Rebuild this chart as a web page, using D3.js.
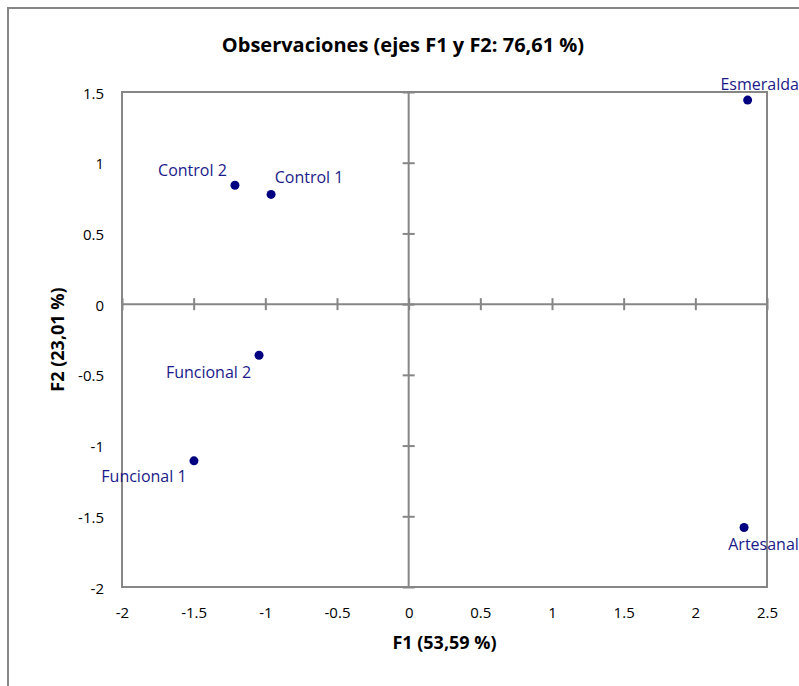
<!DOCTYPE html>
<html>
<head>
<meta charset="utf-8">
<script src="https://cdn.jsdelivr.net/npm/d3@7"></script>
<style>
  html, body { margin: 0; padding: 0; background: #fff; }
  svg { display: block; }
  text { font-family: "Open Sans", "Noto Sans", sans-serif; }
</style>
</head>
<body>
<svg id="chart" width="799" height="686"></svg>
<script>
// ---- data ----
const observations = ["Esmeralda", "Artesanal", "Control 2", "Control 1", "Funcional 2", "Funcional 1"];
const f1Values = [2.365, 2.340, -1.212, -0.960, -1.044, -1.498];
const f2Values = [1.443, -1.579, 0.841, 0.776, -0.361, -1.108];
const xTicks = [-2, -1.5, -1, -0.5, 0, 0.5, 1, 1.5, 2, 2.5];
const yTicks = [-2, -1.5, -1, -0.5, 0, 0.5, 1, 1.5];
const titleText = "Observaciones (ejes F1 y F2: 76,61 %)";
const xTitle = "F1 (53,59 %)";
const yTitle = "F2 (23,01 %)";

// label placement (style): offset of label centre/baseline from its point
const labelOffsets = [[12, -10], [19.5, 23], [-42.5, -9], [38, -11], [-50.5, 23], [-50, 21]];

const FONT = "'Open Sans', 'Noto Sans', sans-serif";
const svg = d3.select("#chart");
const gray = "#868686";
const navy = "#000080";

const pL = 122, pR = 767, pT = 92, pB = 587;
const x = d3.scaleLinear().domain([-2, 2.5]).range([pL, pR]);
const y = d3.scaleLinear().domain([-2, 1.5]).range([pB, pT]);

// outer frame (extends beyond the view)
svg.append("rect").attr("x", 8).attr("y", 8).attr("width", 900).attr("height", 900)
  .attr("fill", "none").attr("stroke", gray).attr("stroke-width", 2);

// title
svg.append("text").attr("x", 403).attr("y", 52).attr("text-anchor", "middle")
  .attr("font-weight", "bold").attr("font-size", 20).attr("fill", "#000").text(titleText);

// plot area
svg.append("rect").attr("x", pL).attr("y", pT).attr("width", pR - pL).attr("height", pB - pT)
  .attr("fill", "none").attr("stroke", gray).attr("stroke-width", 2);

// zero lines with cross ticks
const zx = svg.append("g").attr("transform", `translate(0,${y(0) + 6})`)
  .call(d3.axisBottom(x).tickValues(xTicks).tickSize(12).tickFormat(""));
zx.select(".domain").remove();
zx.selectAll(".tick line").attr("stroke", gray).attr("stroke-width", 2).attr("transform", "translate(0,-12)");
svg.append("line").attr("x1", pL).attr("x2", pR).attr("y1", y(0)).attr("y2", y(0))
  .attr("stroke", gray).attr("stroke-width", 2);

const zy = svg.append("g").attr("transform", `translate(${x(0) - 6},0)`)
  .call(d3.axisLeft(y).tickValues(yTicks).tickSize(12).tickFormat(""));
zy.select(".domain").remove();
zy.selectAll(".tick line").attr("stroke", gray).attr("stroke-width", 2).attr("transform", "translate(12,0)");
svg.append("line").attr("x1", x(0)).attr("x2", x(0)).attr("y1", pT).attr("y2", pB)
  .attr("stroke", gray).attr("stroke-width", 2);

// tick labels
const fmt = d => String(d);
const ax = svg.append("g").attr("transform", `translate(0,${pB})`)
  .call(d3.axisBottom(x).tickValues(xTicks).tickSize(0).tickPadding(20).tickFormat(fmt));
ax.select(".domain").remove();
ax.selectAll("text").attr("font-size", 15).attr("fill", "#000").style("font-family", FONT);

const ay = svg.append("g").attr("transform", `translate(${pL},0)`)
  .call(d3.axisLeft(y).tickValues(yTicks).tickSize(0).tickPadding(18).tickFormat(fmt));
ay.select(".domain").remove();
ay.selectAll("text").attr("font-size", 15).attr("fill", "#000").attr("dy", "0.4em").style("font-family", FONT);

// axis titles
svg.append("text").attr("x", (pL + pR) / 2).attr("y", 649).attr("text-anchor", "middle")
  .attr("font-weight", "bold").attr("font-size", 18).attr("fill", "#000").text(xTitle);
svg.append("text").attr("transform", `translate(64,${(pT + pB) / 2}) rotate(-90)`)
  .attr("text-anchor", "middle").attr("font-weight", "bold").attr("font-size", 18).attr("fill", "#000").text(yTitle);

// points
const data = observations.map((name, i) => ({ name, f1: f1Values[i], f2: f2Values[i], off: labelOffsets[i] }));
svg.append("g").selectAll("circle").data(data).join("circle")
  .attr("cx", d => x(d.f1)).attr("cy", d => y(d.f2)).attr("r", 4.5).attr("fill", navy);

svg.append("g").selectAll("text").data(data).join("text")
  .attr("x", d => x(d.f1) + d.off[0]).attr("y", d => y(d.f2) + d.off[1])
  .attr("text-anchor", "middle").attr("font-size", 16).attr("fill", "#1a1a8a").text(d => d.name);
</script>
</body>
</html>
